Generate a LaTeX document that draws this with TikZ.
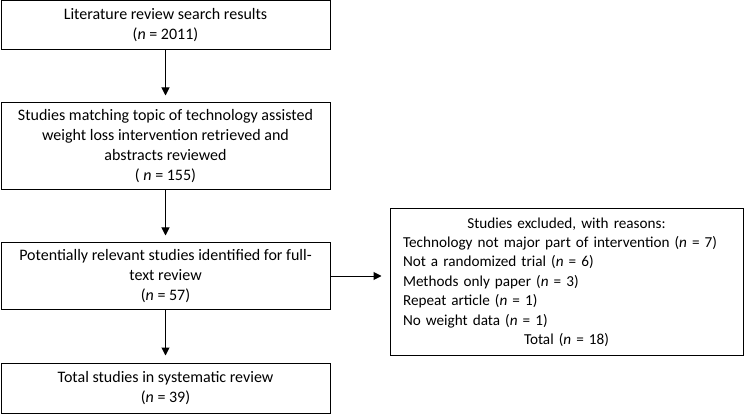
\documentclass[tikz,border=0pt]{standalone}
\usepackage{fontspec}
\setmainfont{Carlito}
\usetikzlibrary{calc,positioning,arrows.meta}

\tikzset{
	flowbox/.style={draw,line width=1pt,align=center,inner sep=0pt,
		font=\fontsize{16}{20}\selectfont},
	flowarrow/.style={-{Triangle[length=8pt,width=8pt]},line width=1pt,shorten >=7pt}
}

\begin{document}
\begin{tikzpicture}[black,x=1pt,y=1pt]
	\useasboundingbox (0, 0) rectangle (747, -414);
	% Main column
	\node[flowbox,minimum width=329pt,minimum height=49pt] (search) at (165.5, -25.5)
		{Literature review search results\\(\textit{n} = 2011)};
	\node[flowbox,minimum width=329pt,minimum height=87pt] (matching) at (165.5, -146.5)
		{Studies matching topic of technology assisted\\weight loss intervention retrieved and\\abstracts reviewed\\( \textit{n} = 155)};
	\node[flowbox,minimum width=329pt,minimum height=66pt] (fulltext) at (165.5, -276)
		{Potentially relevant studies identified for full-\\text review\\(\textit{n} = 57)};
	\node[flowbox,minimum width=329pt,minimum height=50pt] (included) at (165.5, -388)
		{Total studies in systematic review\\(\textit{n} = 39)};
	
	% Exclusions
	\node[flowbox,font=\fontsize{15.2}{19.4}\selectfont,align=left,text width=327pt,inner xsep=13pt,minimum height=146pt] (excluded) at (566.5, -282)
		{\centerline{Studies excluded, with reasons:}
		Technology not major part of intervention (\textit{n} = 7)\\
		Not a randomized trial (\textit{n} = 6)\\
		Methods only paper (\textit{n} = 3)\\
		Repeat article (\textit{n} = 1)\\
		No weight data (\textit{n} = 1)
		\centerline{Total (\textit{n} = 18)}};
	
	% Arrows
	\draw[flowarrow] (search) -- (matching);
	\draw[flowarrow] (matching) -- (fulltext);
	\draw[flowarrow] (fulltext) -- (included);
	\draw[flowarrow,shorten >=8pt] (fulltext.east) -- (fulltext.east -| excluded.west);
\end{tikzpicture}
\end{document}
